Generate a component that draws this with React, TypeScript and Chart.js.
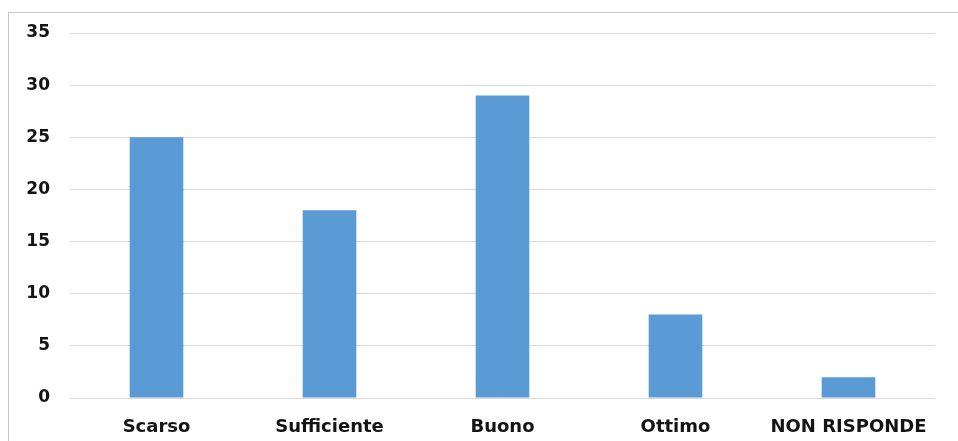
import React, { useEffect, useRef } from "react";
import { Chart, registerables } from "chart.js";

Chart.register(...registerables);

const categories = ["Scarso", "Sufficiente", "Buono", "Ottimo", "NON RISPONDE"];
const values = [25, 18, 29, 8, 2];
const yMax = 35;
const yStep = 5;

export default function App() {
  const ref = useRef<HTMLCanvasElement | null>(null);

  useEffect(() => {
    if (!ref.current) return;
    const family = "'DejaVu Sans', Verdana, sans-serif";
    const chart = new Chart(ref.current, {
      type: "bar",
      data: {
        labels: categories,
        datasets: [
          {
            data: values,
            backgroundColor: "#5b9bd5",
            borderWidth: 0,
            barPercentage: 0.31,
            categoryPercentage: 1,
          },
        ],
      },
      options: {
        responsive: false,
        animation: false,
        layout: { padding: { left: 0, top: 33, right: 23, bottom: 0 } },
        plugins: { legend: { display: false }, tooltip: { enabled: false } },
        scales: {
          x: {
            grid: { display: false, drawTicks: false },
            border: { display: false },
            ticks: {
              font: { family, size: 18, weight: "bold" },
              color: "#141414",
              padding: 19,
              maxRotation: 0,
              autoSkip: false,
            },
            afterFit: (s: any) => {
              s.height = 43;
            },
          },
          y: {
            min: 0,
            max: yMax,
            grid: { color: "#d9d9d9", lineWidth: 1, drawTicks: false },
            border: { display: false },
            ticks: {
              stepSize: yStep,
              font: { family, size: 17, weight: "bold" },
              color: "#141414",
              padding: 20,
            },
            afterFit: (s: any) => {
              s.width = 70;
            },
          },
        },
      },
    });
    return () => chart.destroy();
  }, []);

  return (
    <div style={{ position: "fixed", left: 0, top: 0, width: 958, height: 441, background: "#fff", overflow: "hidden" }}>
      <div
        style={{
          position: "absolute",
          left: 8,
          top: 12,
          width: 1000,
          height: 500,
          border: "1px solid #c8c8c8",
          boxSizing: "border-box",
        }}
      />
      <canvas ref={ref} width={958} height={441} style={{ position: "absolute", left: 0, top: 0 }} />
    </div>
  );
}
